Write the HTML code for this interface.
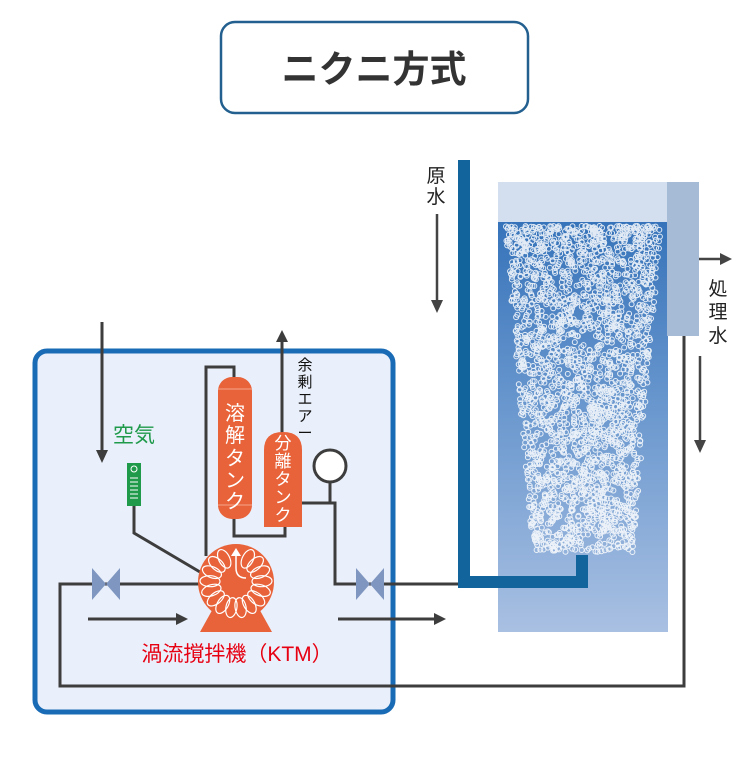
<!DOCTYPE html>
<html><head><meta charset="utf-8"><style>
html,body{margin:0;padding:0;background:#fff;}
svg{display:block;}
text{font-family:"Liberation Sans","Noto Sans CJK JP",sans-serif;}
</style></head><body>
<svg id="s" width="750" height="770" viewBox="0 0 750 770" xmlns="http://www.w3.org/2000/svg">
<defs>
<linearGradient id="w" x1="0" y1="0" x2="0" y2="1">
<stop offset="0" stop-color="#3673ba"/><stop offset="0.5" stop-color="#6f9bd0"/><stop offset="1" stop-color="#a9c0e2"/>
</linearGradient>
</defs>
<rect x="221" y="22" width="307" height="91" rx="14" fill="#fff" stroke="#23608f" stroke-width="2.5"/>
<text x="374" y="82" text-anchor="middle" font-size="37" font-weight="bold" fill="#333">ニクニ方式</text>

<rect x="35" y="351" width="358" height="361" rx="12" fill="#eaf0fb" stroke="#1a6bb5" stroke-width="5"/>

<rect x="498" y="182" width="170" height="41" fill="#d3deef"/>
<rect x="498" y="222" width="170" height="410" fill="url(#w)"/>
<rect x="667" y="182" width="32" height="154" fill="#a6bcd6"/>
<g id="bub" fill="none" stroke="#fff" stroke-width="1" opacity="0.85"></g>

<path d="M464 160 V582 H582 V555" fill="none" stroke="#11649c" stroke-width="12"/>
<text x="436" y="182" text-anchor="middle" font-size="19" fill="#222">原</text>
<text x="436" y="203" text-anchor="middle" font-size="19" fill="#222">水</text>
<g stroke="#444" stroke-width="2.5" fill="#444">
<line x1="437" y1="214" x2="437" y2="305"/><path d="M431 300 L437 313 L443 300Z" stroke="none"/>
<line x1="699" y1="259" x2="724" y2="259"/><path d="M720 253 L732 259 L720 265Z" stroke="none"/>
<line x1="700" y1="356" x2="700" y2="445"/><path d="M694 440 L700 453 L706 440Z" stroke="none"/>
</g>
<text x="718" y="295" text-anchor="middle" font-size="19" fill="#222">処</text>
<text x="718" y="318" text-anchor="middle" font-size="19" fill="#222">理</text>
<text x="718" y="342" text-anchor="middle" font-size="19" fill="#222">水</text>

<g fill="none" stroke="#3d3d3d" stroke-width="3">
<path d="M684 336 V686 H60 V584 H205"/>
<path d="M458 584 H335 V503 H302"/>
<line x1="330" y1="482" x2="330" y2="503"/>
<path d="M206 556 V367 H234 V378"/>
<path d="M234 518 V536 H285 V527"/>
<line x1="282" y1="436" x2="282" y2="340"/>
<path d="M134 506 V533 L200 572"/>
<line x1="102" y1="322" x2="102" y2="455"/>
<line x1="88" y1="619" x2="178" y2="619"/>
<line x1="338" y1="619" x2="436" y2="619"/>
</g>
<g fill="#3d3d3d">
<path d="M96 450 L102 463 L108 450Z"/>
<path d="M276 342 L282 330 L288 342Z"/>
<path d="M176 613 L188 619 L176 625Z"/>
<path d="M434 613 L446 619 L434 625Z"/>
</g>
<circle cx="330" cy="466" r="16" fill="#fff" stroke="#3d3d3d" stroke-width="3"/>

<g fill="#7f96c0">
<path d="M92 568 L120 600 V568 L92 600Z"/>
<path d="M356 568 L384 600 V568 L356 600Z"/>
</g>

<rect x="218" y="377" width="34" height="142" rx="14" fill="#e8633a"/>
<line x1="218" y1="389" x2="252" y2="389" stroke="#f3a58a" stroke-width="1"/>
<line x1="218" y1="505" x2="252" y2="505" stroke="#f3a58a" stroke-width="1"/>
<path d="M264 527 V450 Q264 432 283 432 Q302 432 302 450 V527Z" fill="#e8633a"/>
<g fill="#fff" font-size="20" text-anchor="middle">
<text x="235" y="420">溶</text><text x="235" y="442">解</text><text x="235" y="465">タ</text><text x="235" y="487">ン</text><text x="235" y="508">ク</text>
</g>
<g fill="#fff" font-size="17" text-anchor="middle">
<text x="283" y="449">分</text><text x="283" y="467">離</text><text x="283" y="485">タ</text><text x="283" y="503">ン</text><text x="283" y="521">ク</text>
</g>
<g fill="#111" font-size="15" text-anchor="middle">
<text x="305" y="370">余</text><text x="305" y="387">剰</text><text x="305" y="404">エ</text><text x="305" y="421">ア</text><text x="305" y="438">ー</text>
</g>
<text x="134" y="442" text-anchor="middle" font-size="21" fill="#1f9a4b">空気</text>
<rect x="127" y="463" width="14" height="43" fill="#1f9a4b"/>
<circle cx="134" cy="469" r="3" fill="none" stroke="#fff" stroke-width="1"/>
<g stroke="#fff" stroke-width="1"><line x1="130" y1="478" x2="138" y2="478"/><line x1="130" y1="482" x2="138" y2="482"/><line x1="130" y1="486" x2="138" y2="486"/><line x1="130" y1="490" x2="138" y2="490"/><line x1="130" y1="494" x2="138" y2="494"/><line x1="130" y1="498" x2="138" y2="498"/></g>

<path d="M200 632 L215 605 H257 L272 632Z" fill="#e8633a"/>
<circle cx="236" cy="582" r="38" fill="#e8633a"/>
<g id="coil" fill="none" stroke="#fff" stroke-width="1.2"></g>
<path d="M236 550 V568 Q236 578 246 578" fill="none" stroke="#fff" stroke-width="1.5"/>
<path d="M231 556 L236 548 L241 556Z" fill="#fff"/>
<text x="237" y="661" text-anchor="middle" font-size="21" fill="#e60012">渦流撹拌機（KTM）</text>
</svg>
<script>
var ns="http://www.w3.org/2000/svg",g=document.getElementById("bub"),seed=7;
function r(){seed=(seed*16807)%2147483647;return seed/2147483647;}
for(var i=0;i<2400;i++){var y=226+Math.pow(r(),1.2)*326;var t=(y-226)/326;var hw=78-t*28;var x=583+(r()*2-1)*hw;
var c=document.createElementNS(ns,"circle");c.setAttribute("cx",x.toFixed(1));c.setAttribute("cy",y.toFixed(1));c.setAttribute("r","2.5");g.appendChild(c);}
var cg=document.getElementById("coil");
for(var k=0;k<16;k++){var a=-Math.PI*0.35+k*(Math.PI*1.7/15)*1.0;
var cx=236+26*Math.cos(a),cy=582+26*Math.sin(a);
var e=document.createElementNS(ns,"ellipse");e.setAttribute("cx",cx);e.setAttribute("cy",cy);e.setAttribute("rx","5.5");e.setAttribute("ry","10");
e.setAttribute("transform","rotate("+(a*180/Math.PI+90)+" "+cx+" "+cy+")");cg.appendChild(e);}
</script>
</body></html>
